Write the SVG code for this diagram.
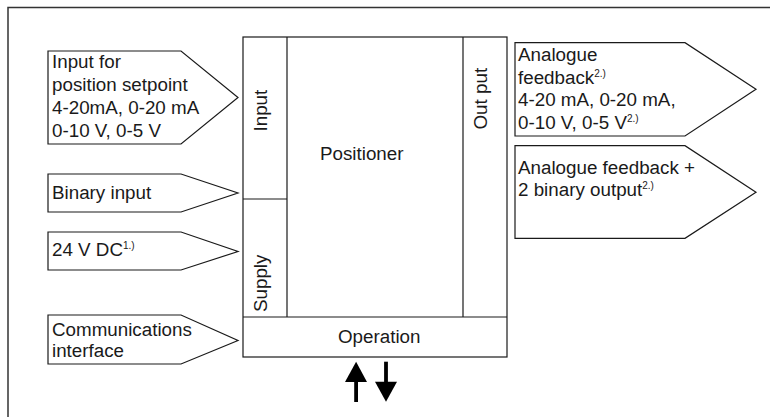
<svg xmlns="http://www.w3.org/2000/svg" width="770" height="417" viewBox="0 0 770 417">
<style>
.frame{fill:none;stroke:#333;stroke-width:1.5}
.shape{fill:#fff;stroke:#1a1a1a;stroke-width:1.2;stroke-linejoin:miter}
.line{stroke:#1a1a1a;stroke-width:1.2;fill:none}
text{font-family:"Liberation Sans",Arial,Helvetica,sans-serif;font-size:18.8px;fill:#1a1a1a}
.sup{font-size:10px}
.arrow{fill:#000;stroke:none}
</style>
<rect width="770" height="417" fill="#fff"/>
<path class="frame" d="M8,417 V7.5 H770"/>

<g id="positioner">
<rect class="shape" x="243" y="37" width="264" height="320"/>
<line class="line" x1="287" y1="37" x2="287" y2="317"/>
<line class="line" x1="463" y1="37" x2="463" y2="317"/>
<line class="line" x1="243" y1="199" x2="287" y2="199"/>
<line class="line" x1="243" y1="317" x2="507" y2="317"/>
<text x="320" y="160">Positioner</text>
</g>
<g id="input-section">
<text transform="translate(266.5,131.5) rotate(-90)">Input</text>
</g>
<g id="supply-section">
<text transform="translate(266.5,312) rotate(-90)">Supply</text>
</g>
<g id="output-section">
<text transform="translate(486.5,129.5) rotate(-90)">Out put</text>
</g>
<g id="operation">
<text x="338" y="343">Operation</text>
</g>

<g id="setpoint-input">
<polygon class="shape" points="48,51 181,51 238,97.5 181,144 48,144"/>
<text x="52" y="68">Input for</text>
<text x="52" y="91">position setpoint</text>
<text x="52" y="114">4-20mA, 0-20 mA</text>
<text x="52" y="137">0-10 V, 0-5 V</text>
</g>
<g id="binary-input">
<polygon class="shape" points="48,174 181,174 238,193 181,212 48,212"/>
<text x="52" y="198.5">Binary input</text>
</g>
<g id="supply-24v">
<polygon class="shape" points="48,232 181,232 238,251.5 181,270 48,270"/>
<text x="52" y="255.5">24 V DC<tspan class="sup" dy="-7">1.)</tspan></text>
</g>
<g id="communications">
<polygon class="shape" points="48,315 181,315 238,340.5 181,364 48,364"/>
<text x="52" y="335.5">Communications</text>
<text x="52" y="357">interface</text>
</g>

<g id="analogue-feedback">
<polygon class="shape" points="515,42.7 685,42.7 756,89.3 685,136 515,136"/>
<text x="518" y="61">Analogue</text>
<text x="518" y="83.5">feedback<tspan class="sup" dy="-7">2.)</tspan></text>
<text x="518" y="106">4-20 mA, 0-20 mA,</text>
<text x="518" y="128.5">0-10 V, 0-5 V<tspan class="sup" dy="-7">2.)</tspan></text>
</g>
<g id="feedback-binary-output">
<polygon class="shape" points="515,145.7 685,145.7 756,192.3 685,238.3 515,238.3"/>
<text x="518" y="174">Analogue feedback +</text>
<text x="518" y="196">2 binary output<tspan class="sup" dy="-7">2.)</tspan></text>
</g>

<g id="connectors">
<g id="operation-in">
<rect class="arrow" x="354.2" y="381" width="3.8" height="21"/>
<polygon class="arrow" points="345,382 356.1,361.7 367,382"/>
</g>
<g id="operation-out">
<rect class="arrow" x="384.1" y="361.7" width="3.8" height="21"/>
<polygon class="arrow" points="375,381.7 386,401.7 397,381.7"/>
</g>
</g>
</svg>
